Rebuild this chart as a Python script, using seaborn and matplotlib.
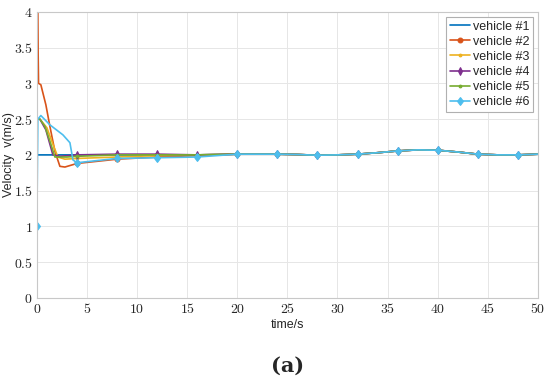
import matplotlib
matplotlib.use('Agg')
import matplotlib.pyplot as plt
import matplotlib.ticker as mticker
import seaborn as sns
import pandas as pd
import numpy as np

# Datos (tiempo en s, velocidad en m/s)
t_cola = [20, 22, 24, 26, 28, 30, 32, 34, 36, 38, 40, 42, 44, 46, 48, 50]
v_cola = [2.01, 2.01, 2.01, 2.005, 1.995, 2.0, 2.01, 2.03, 2.055, 2.07, 2.065, 2.04, 2.01, 2.0, 2.0, 2.01]

t_v1 = [0, 4, 8, 12, 16] + t_cola
v_v1 = [2.0, 2.0, 2.0, 2.0, 2.0] + v_cola

t_v2 = [0.1, 0.13, 0.17, 0.4, 0.9, 1.3, 1.8, 2.3, 2.8, 4, 6, 8, 12, 16] + t_cola
v_v2 = [4.0, 3.4, 3.0, 2.98, 2.7, 2.4, 2.05, 1.84, 1.83, 1.88, 1.91, 1.94, 1.97, 1.99] + v_cola

t_v3 = [0, 0.3, 1.0, 1.6, 2.1, 2.8, 4, 8, 12, 16] + t_cola
v_v3 = [2.5, 2.5, 2.38, 2.15, 1.97, 1.94, 1.95, 1.97, 1.99, 2.0] + v_cola

t_v4 = [0, 0.3, 0.9, 1.6, 2.3, 4, 8, 12, 16] + t_cola
v_v4 = [2.5, 2.5, 2.35, 2.0, 1.98, 2.0, 2.01, 2.01, 2.0] + v_cola

t_v5 = [0, 0.3, 0.8, 1.4, 1.8, 3.0, 4, 8, 12, 16] + t_cola
v_v5 = [2.5, 2.5, 2.4, 2.15, 1.97, 1.97, 1.98, 2.0, 2.0, 2.0] + v_cola

t_v6 = [0, 0.1, 0.4, 1.3, 2.6, 3.3, 3.6, 4, 6, 8, 12, 16] + t_cola
v_v6 = [1.0, 2.5, 2.55, 2.42, 2.28, 2.17, 1.93, 1.89, 1.92, 1.95, 1.96, 1.97] + v_cola

vehiculos = ['vehicle #1', 'vehicle #2', 'vehicle #3', 'vehicle #4', 'vehicle #5', 'vehicle #6']
tiempos = [t_v1, t_v2, t_v3, t_v4, t_v5, t_v6]
velocidades = [v_v1, v_v2, v_v3, v_v4, v_v5, v_v6]

colores = ['#0072BD', '#D95319', '#EDB120', '#7E2F8E', '#77AC30', '#4DBEEE']
marcadores = [None, 'o', '.', 'd', '.', 'd']
tamanos = [0, 3.5, 4, 4, 4, 4.5]

sns.set_style('whitegrid')
plt.rcParams['font.family'] = ['Liberation Sans', 'DejaVu Sans']
plt.rcParams['mathtext.fontset'] = 'cm'

fig = plt.figure(figsize=(5.5, 3.81), dpi=100)
ax = fig.add_axes([0.067, 0.218, 0.911, 0.751])

for k, (nombre, t, v, color, marca, ms) in enumerate(zip(vehiculos, tiempos, velocidades, colores, marcadores, tamanos)):
    df = pd.DataFrame({'t': t, 'v': v})
    # marcadores cada 4 s (el primero solo para el vehículo 6)
    idx = [i for i, x in enumerate(t) if x % 4 == 0 and (x > 0 or k == 5)]
    sns.lineplot(data=df, x='t', y='v', ax=ax, color=color, linewidth=1.2,
                 marker=marca, markersize=ms, markevery=idx,
                 markerfacecolor=color, markeredgecolor=color,
                 label=nombre, sort=False)

ax.set_xlim(0, 50)
ax.set_ylim(0, 4)
ax.xaxis.set_major_locator(mticker.MultipleLocator(5))
ax.yaxis.set_major_locator(mticker.MultipleLocator(0.5))
ax.xaxis.set_major_formatter(mticker.FuncFormatter(lambda x, p: f'${x:g}$'))
ax.yaxis.set_major_formatter(mticker.FuncFormatter(lambda x, p: f'${x:g}$'))
ax.tick_params(axis='both', labelsize=10, colors='#262626', length=0, pad=3)
ax.grid(True, color='#e6e6e6', linewidth=0.7)
for lado in ['left', 'bottom', 'right', 'top']:
    ax.spines[lado].set_visible(True)
    ax.spines[lado].set_color('#c8c8c8')
    ax.spines[lado].set_linewidth(0.8)

ax.set_xlabel('time/s', fontsize=9, labelpad=2)
ax.set_ylabel('Velocity  v(m/s)', fontsize=9)
ax.yaxis.set_label_coords(-0.044, 0.5)

leg = ax.legend(loc='upper right', fontsize=9, frameon=True, fancybox=False,
                edgecolor='#b0b0b0', framealpha=1, handlelength=1.6,
                handletextpad=0.2, borderpad=0.3, labelspacing=0.25,
                borderaxespad=0.4)
leg.get_frame().set_linewidth(0.8)

fig.text(0.522, 0.04, '(a)', fontsize=15, fontweight='bold', family='DejaVu Serif',
         ha='center', va='center')

fig.savefig('out.png', dpi=100)
